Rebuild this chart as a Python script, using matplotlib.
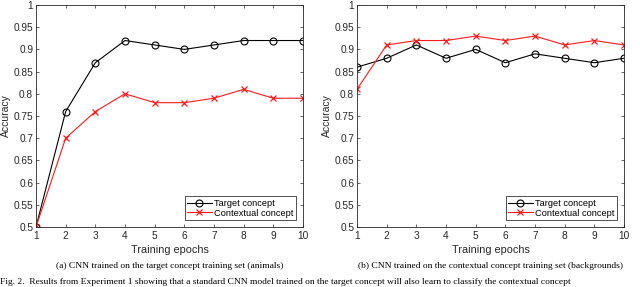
import matplotlib
matplotlib.use("Agg")
import matplotlib.pyplot as plt

epochs = [1, 2, 3, 4, 5, 6, 7, 8, 9, 10]
yticks = [0.5, 0.55, 0.6, 0.65, 0.7, 0.75, 0.8, 0.85, 0.9, 0.95, 1.0]
ytick_labels = ["0.5", "0.55", "0.6", "0.65", "0.7", "0.75", "0.8", "0.85", "0.9", "0.95", "1"]

# (a) trained on target concept (animals)
a_target = [0.50, 0.76, 0.87, 0.92, 0.91, 0.90, 0.91, 0.92, 0.92, 0.92]
a_context = [0.50, 0.70, 0.76, 0.80, 0.78, 0.78, 0.79, 0.81, 0.79, 0.79]
# (b) trained on contextual concept (backgrounds)
b_target = [0.86, 0.88, 0.91, 0.88, 0.90, 0.87, 0.89, 0.88, 0.87, 0.88]
b_context = [0.81, 0.91, 0.92, 0.92, 0.93, 0.92, 0.93, 0.91, 0.92, 0.91]

captions = ["(a) CNN trained on the target concept training set (animals)",
            "(b) CNN trained on the contextual concept training set (backgrounds)"]
fig_caption = ("Fig. 2.  Results from Experiment 1 showing that a standard CNN model trained on the "
               "target concept will also learn to classify the contextual concept")

plt.rcParams["font.family"] = ["Liberation Sans", "DejaVu Sans"]
axcol = "#262626"

fig = plt.figure(figsize=(6.4, 2.87), dpi=100)
lefts = [36 / 640, 357 / 640]
W, H = 640, 287
data = [(a_target, a_context), (b_target, b_context)]

for i, (tgt, ctx) in enumerate(data):
    ax = fig.add_axes([lefts[i], 1 - 227 / H, 267 / W, 222 / H])
    ax.plot(epochs, tgt, color="black", lw=0.8, marker="o", ms=5,
            mfc="none", mew=0.8, label="Target concept")
    ax.plot(epochs, ctx, color="#ff1a1a", lw=0.8, marker="x", ms=4,
            mew=0.9, label="Contextual concept")
    ax.set_xlim(1, 10)
    ax.set_ylim(0.5, 1.0)
    ax.set_xticks(epochs)
    ax.set_yticks(yticks)
    ax.set_yticklabels(ytick_labels)
    ax.tick_params(direction="in", length=2.5, width=0.5, labelsize=7.3,
                   colors=axcol, labelcolor=axcol, top=True, right=True, pad=2)
    ax.tick_params(axis="x", pad=3)
    for s in ax.spines.values():
        s.set_color(axcol)
        s.set_linewidth(0.6)
    ax.set_xlabel("Training epochs", fontsize=7.8, color=axcol, labelpad=2.5)
    ax.set_ylabel("Accuracy", fontsize=7.5, color=axcol, labelpad=2)
    leg = ax.legend(loc="lower right", fontsize=6.7, frameon=True, fancybox=False,
                    borderpad=0.3, handlelength=2.6, handletextpad=0.3,
                    labelspacing=0.1, borderaxespad=0.7)
    leg.get_frame().set_edgecolor("black")
    leg.get_frame().set_linewidth(0.6)
    fig.text(lefts[i] + 267 / W / 2, 1 - 266 / H, captions[i], ha="center", va="center",
             fontsize=6.8, family="Liberation Serif")

fig.text(0.0, 1 / H, fig_caption, ha="left", va="bottom",
         fontsize=6.8, family="Liberation Serif")

fig.savefig("out.png", dpi=100)
